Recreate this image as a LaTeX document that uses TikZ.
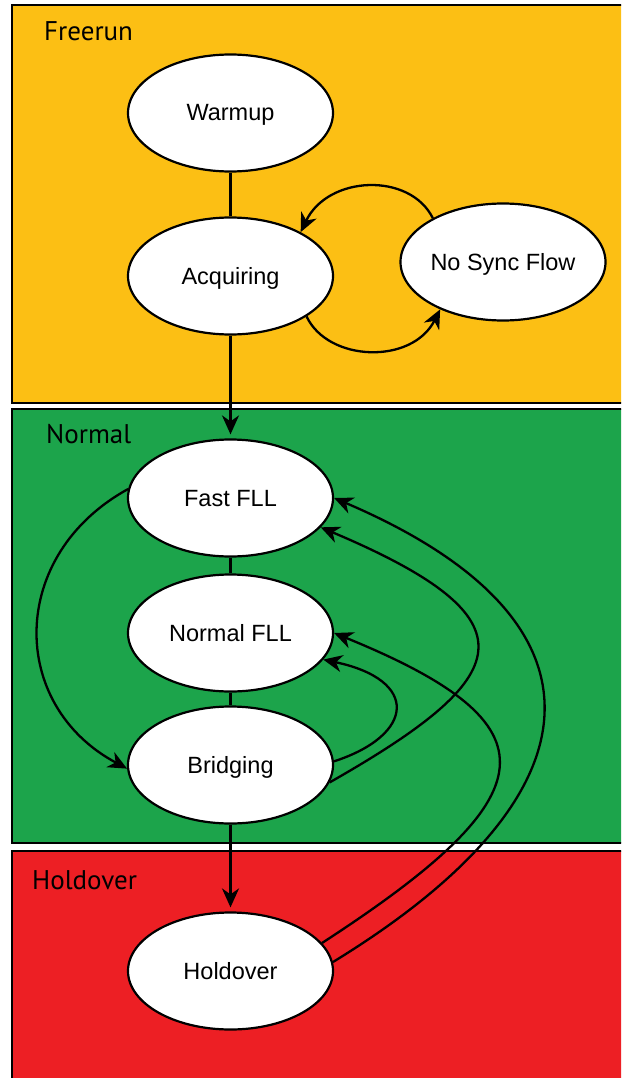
\documentclass[tikz,border=0pt]{standalone}
\usepackage{fontspec}
\setmainfont{Liberation Sans}
\newfontfamily\labelfont{PT Sans}
\usetikzlibrary{arrows.meta,shapes.geometric}
\definecolor{freerunbg}{HTML}{FCBF14}
\definecolor{normalbg}{HTML}{1CA44B}
\definecolor{holdbg}{HTML}{ED1F24}

\begin{document}
\begin{tikzpicture}[x=1pt,y=-1pt,
  state/.style={ellipse, draw, line width=2.2pt, fill=white, inner sep=0pt,
    minimum width=205pt, minimum height=117pt,
    text height=19pt, text depth=3pt,
    font=\fontsize{23.5}{28}\selectfont},
  region/.style={draw, line width=2.2pt},
  regionlabel/.style={anchor=base west, inner sep=0pt,
    font=\labelfont\fontsize{27}{32}\selectfont},
  link/.style={line width=2.3pt},
  flow/.style={line width=2.3pt, -{Stealth[length=19pt,width=17pt,inset=6pt]}}]

% page frame
\fill[white] (0,0) rectangle (621,1078);
\clip (0,0) rectangle (621,1078);

% mode regions
\draw[region, fill=freerunbg] (12,5) rectangle (640,403);
\draw[region, fill=normalbg] (12,409) rectangle (640,843);
\draw[region, fill=holdbg] (12,851) rectangle (640,1100);

\node[regionlabel] (lblfree) at (44,41) {Freerun};
\node[regionlabel] (lblnorm) at (46,443) {Normal};
\node[regionlabel] (lblhold) at (32,889) {Holdover};

% states
\node[state] (warm) at (230.5,113) {Warmup};
\node[state] (acq) at (230.5,276) {Acquiring};
\node[state] (nosync) at (503,262) {No Sync Flow};
\node[state] (fast) at (230.5,498) {Fast FLL};
\node[state] (nfll) at (230.5,633) {Normal FLL};
\node[state] (bridge) at (230.5,765) {Bridging};
\node[state] (hold) at (230.5,971) {Holdover};

% plain links
\draw[link] (warm) -- (acq);
\draw[link] (fast) -- (nfll);
\draw[link] (nfll) -- (bridge);

% transitions
\draw[flow, shorten >=4pt] (acq) -- (fast);
\draw[flow, shorten >=4pt] (bridge) -- (hold);
\draw[flow] (acq.-28) .. controls (328,362) and (412,365) .. (nosync.-143);
\draw[flow] (nosync.148) .. controls (410,172) and (328,175) .. (acq.32);
\draw[flow] (fast.175) .. controls (8,555) and (8,705) .. (bridge.-178);
\draw[flow] (bridge.2) .. controls (415,735) and (420,680) .. (nfll.-16);
\draw[flow] (bridge.-10) .. controls (515,677) and (540,620) .. (fast.-18);
\draw[flow] (hold.17) .. controls (550,795) and (560,725) .. (nfll.0);
\draw[flow] (hold.5) .. controls (606,795) and (620,620) .. (fast.0);
\end{tikzpicture}
\end{document}
